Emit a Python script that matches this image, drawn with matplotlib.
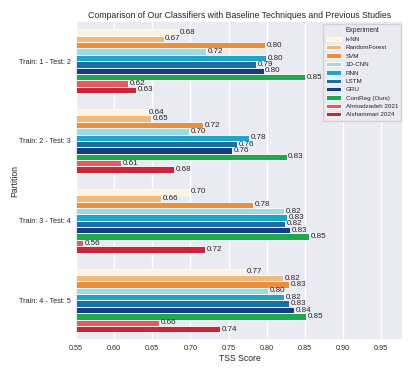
import matplotlib
matplotlib.use("Agg")
import matplotlib.pyplot as plt
import numpy as np
import seaborn as sns

partitions = ["Train: 1 - Test: 2", "Train: 2 - Test: 3", "Train: 3 - Test: 4", "Train: 4 - Test: 5"]
experiments = ["k-NN", "RandomForest", "SVM", "1D-CNN", "RNN", "LSTM", "GRU",
               "ContReg (Ours)", "Ahmadzadeh 2021", "Alshammari 2024"]
colors = ["#fdf3e3", "#f0b97c", "#e8903e", "#a0d9e6", "#1ea6c4", "#1b6fa3",
          "#153f7c", "#1fa84f", "#e35b62", "#c8263b"]

knn = [0.684, 0.644, 0.698, 0.772]
rf = [0.665, 0.648, 0.662, 0.821]
svm = [0.798, 0.717, 0.782, 0.829]
cnn1d = [0.721, 0.698, 0.823, 0.802]
rnn = [0.799, 0.777, 0.827, 0.823]
lstm = [0.786, 0.761, 0.824, 0.829]
gru = [0.796, 0.755, 0.831, 0.836]
contreg = [0.850, 0.826, 0.855, 0.852]
ahmadzadeh = [0.618, 0.609, 0.559, 0.659]
alshammari = [0.629, 0.679, 0.719, 0.739]

series = [knn, rf, svm, cnn1d, rnn, lstm, gru, contreg, ahmadzadeh, alshammari]

sns.set_theme(style="darkgrid")
plt.rcParams['font.family'] = ['Liberation Sans', 'DejaVu Sans']

fig = plt.figure(figsize=(4.15, 3.74), dpi=100)
ax = fig.add_axes([0.183, 0.09, 0.789, 0.853])
ax.grid(False, axis="y")

n = len(series)
group_w = 0.8
bw = group_w / n
y = np.arange(len(partitions))
for i, (vals, name, c) in enumerate(zip(series, experiments, colors)):
    pos = y - group_w / 2 + bw * (i + 0.5)
    bars = ax.barh(pos, vals, height=bw, color=c, edgecolor="white", linewidth=0.6, label=name)
    for b, v in zip(bars, vals):
        ax.text(v + 0.002, b.get_y() + b.get_height() / 2, f"{v:.2f}",
                va="center", ha="left", fontsize=5.8, color="#262626")

ax.set_yticks(y)
ax.set_yticklabels(partitions)
ax.set_ylim(3.5, -0.5)
ax.set_xlim(0.55, 0.979)
ticks = np.arange(0.55, 0.951, 0.05)
ax.set_xticks(ticks)
ax.set_xticklabels([f"{t:.2f}" for t in ticks])
ax.tick_params(axis="x", labelsize=5.2, pad=3, length=0)
ax.tick_params(axis="y", labelsize=5.2, pad=3.5, length=0)
ax.set_xlabel("TSS Score", fontsize=6.2, labelpad=2)
ax.set_ylabel("Partition", fontsize=6.2)
ax.yaxis.set_label_coords(-0.172, 0.5)
ax.set_title("Comparison of Our Classifiers with Baseline Techniques and Previous Studies",
             fontsize=6.3, pad=2.5)

leg = ax.legend(title="Experiment", loc="upper right", fontsize=4.5, title_fontsize=4.8,
                frameon=True, borderaxespad=0.35, handlelength=2.3, labelspacing=0.48,
                handletextpad=0.8, borderpad=0.5)

fig.savefig("out.png", dpi=100)
